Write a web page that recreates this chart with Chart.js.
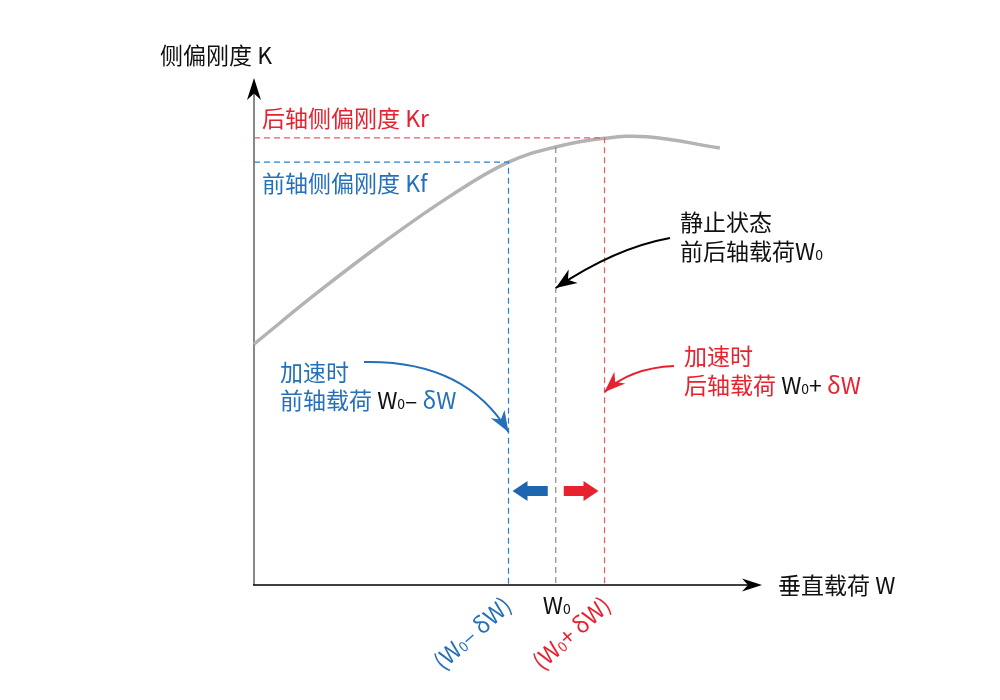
<!DOCTYPE html>
<html>
<head>
<meta charset="utf-8">
<script src="https://cdn.jsdelivr.net/npm/chart.js@4.4.1/dist/chart.umd.min.js"></script>
<style>
  html, body { margin: 0; padding: 0; background: #fff; }
  canvas { display: block; }
</style>
</head>
<body>
<canvas id="chart" width="1000" height="700"></canvas>
<script>
// curve: vertical load W vs cornering stiffness K
const loadW  = [0, 12.4, 25.4, 38.6, 50.1, 59.4, 69.0, 77.4, 91.7];
const stiffK = [47.5, 57.6, 67.5, 76.7, 83.4, 86.4, 88.1, 88.4, 86.2];
// marked loads: W0-dW (front), W0 (static), W0+dW (rear) and their stiffness
const markLoad  = [50.1, 59.4, 69.0];
const markStiff = [83.4, 86.4, 88.2];

const BLUE = '#2470bb';
const RED = '#e8212f';
const GRAY = '#b3b3b3';
const FONT = '"Noto Sans CJK SC", "Noto Sans", sans-serif';

function pts(xs, ys) {
    return xs.map((x, i) => ({ x: x, y: ys[i] }));
}

// a filled stealth-style arrow head, tip at (x,y), pointing along angle a
function head(ctx, x, y, a, len, w) {
    ctx.save();
    ctx.translate(x, y);
    ctx.rotate(a);
    ctx.beginPath();
    ctx.moveTo(0, 0);
    ctx.lineTo(-len, -w / 2);
    ctx.lineTo(-len * 0.7, 0);
    ctx.lineTo(-len, w / 2);
    ctx.closePath();
    ctx.fill();
    ctx.restore();
}

function curvedArrow(ctx, x0, y0, cx, cy, x1, y1, color) {
    ctx.save();
    ctx.strokeStyle = color;
    ctx.fillStyle = color;
    ctx.lineWidth = 2;
    ctx.beginPath();
    ctx.moveTo(x0, y0);
    ctx.quadraticCurveTo(cx, cy, x1, y1);
    ctx.stroke();
    head(ctx, x1, y1, Math.atan2(y1 - cy, x1 - cx), 21, 16);
    ctx.restore();
}

function blockArrow(ctx, tail, tip, y, color) {
    const dir = Math.sign(tip - tail);
    const hl = 15;
    ctx.save();
    ctx.fillStyle = color;
    ctx.beginPath();
    ctx.moveTo(tail, y - 5);
    ctx.lineTo(tip - dir * hl, y - 5);
    ctx.lineTo(tip - dir * hl, y - 10);
    ctx.lineTo(tip, y);
    ctx.lineTo(tip - dir * hl, y + 10);
    ctx.lineTo(tip - dir * hl, y + 5);
    ctx.lineTo(tail, y + 5);
    ctx.closePath();
    ctx.fill();
    ctx.restore();
}

// text made of runs: [text, color, small?]
function runs(ctx, x, y, parts) {
    ctx.textBaseline = 'middle';
    ctx.textAlign = 'left';
    for (const p of parts) {
        if (p[2]) {
            ctx.font = '14px ' + FONT;
            ctx.fillStyle = p[1];
            ctx.fillText(p[0], x, y + 4);
        } else {
            ctx.font = '23px ' + FONT;
            ctx.fillStyle = p[1];
            ctx.fillText(p[0], x, y);
        }
        x += ctx.measureText(p[0]).width;
    }
    return x;
}

const decor = {
    id: 'decor',
    beforeDatasetsDraw(chart) {
        const ctx = chart.ctx;
        const xs = chart.scales.x, ys = chart.scales.y;
        const ox = xs.getPixelForValue(0), oy = ys.getPixelForValue(0);
        const top = ys.getPixelForValue(100), right = xs.getPixelForValue(100);
        ctx.save();
        ctx.lineWidth = 1.6;
        ctx.strokeStyle = '#6a6a6a';
        ctx.beginPath();
        ctx.moveTo(ox, oy);
        ctx.lineTo(ox, top + 10);
        ctx.stroke();
        ctx.strokeStyle = '#000';
        ctx.beginPath();
        ctx.moveTo(ox - 1, oy);
        ctx.lineTo(right - 10, oy);
        ctx.stroke();
        ctx.fillStyle = '#000';
        head(ctx, ox, top, -Math.PI / 2, 22, 14);
        head(ctx, right, oy, 0, 20, 13);
        ctx.restore();
    },
    afterDatasetsDraw(chart) {
        const ctx = chart.ctx;
        const xs = chart.scales.x, ys = chart.scales.y;
        const xf = xs.getPixelForValue(markLoad[0]);
        const x0 = xs.getPixelForValue(markLoad[1]);
        const xr = xs.getPixelForValue(markLoad[2]);
        const oy = ys.getPixelForValue(0);
        ctx.save();

        // axis titles
        runs(ctx, 160, 55, [['侧偏刚度 K', '#111']]);
        runs(ctx, 778, oy, [['垂直载荷 W', '#111']]);

        // stiffness labels
        runs(ctx, 262, 118, [['后轴侧偏刚度 Kr', RED]]);
        runs(ctx, 262, 183, [['前轴侧偏刚度 Kf', BLUE]]);

        // static note
        runs(ctx, 680, 222, [['静止状态', '#111']]);
        runs(ctx, 680, 251, [['前后轴载荷W', '#111'], ['0', '#111', true]]);
        curvedArrow(ctx, 670, 238, 615, 248, x0, 288, '#000');

        // front axle note
        runs(ctx, 280, 372, [['加速时', BLUE]]);
        runs(ctx, 280, 400, [['前轴载荷 ', BLUE], ['W', '#111'], ['0', '#111', true], ['– ', '#111'], ['δW', BLUE]]);
        curvedArrow(ctx, 364, 362, 465, 360, xf, 432, BLUE);

        // rear axle note
        runs(ctx, 684, 356, [['加速时', RED]]);
        runs(ctx, 684, 385, [['后轴载荷 ', RED], ['W', '#111'], ['0', '#111', true], ['+ ', '#111'], ['δW', RED]]);
        curvedArrow(ctx, 674, 366, 630, 368, xr, 392, RED);

        // load shift arrows
        blockArrow(ctx, x0 - 8, xf + 4, 491, '#1f66b0');
        blockArrow(ctx, x0 + 8, xr - 6, 491, RED);

        // tick-like labels under the axis
        runs(ctx, x0 - 13, 605, [['W', '#111'], ['0', '#111', true]]);
        const rot = -42 * Math.PI / 180;
        ctx.save();
        ctx.translate(xf - 33, 630);
        ctx.rotate(rot);
        runs(ctx, -52, 0, [['(W', BLUE], ['0', BLUE, true], ['– δW)', BLUE]]);
        ctx.restore();
        ctx.save();
        ctx.translate(xr - 30, 630);
        ctx.rotate(rot);
        runs(ctx, -52, 0, [['(W', RED], ['0', RED, true], ['+ δW)', RED]]);
        ctx.restore();

        ctx.restore();
    }
};

const ctx = document.getElementById('chart').getContext('2d');
const myChart = new Chart(ctx, {
    type: 'scatter',
    data: {
        datasets: [
            {
                // front axle guide
                data: [{ x: 0, y: markStiff[0] }, { x: markLoad[0], y: markStiff[0] }, { x: markLoad[0], y: 0 }],
                showLine: true, borderColor: '#2d7fcc', borderWidth: 1.2, borderDash: [6, 4],
                pointRadius: 0, tension: 0
            },
            {
                // static guide
                data: [{ x: markLoad[1], y: markStiff[1] }, { x: markLoad[1], y: 0 }],
                showLine: true, borderColor: '#8c8c8c', borderWidth: 1.2, borderDash: [6, 4],
                pointRadius: 0, tension: 0
            },
            {
                // rear axle guide
                data: [{ x: 0, y: markStiff[2] }, { x: markLoad[2], y: markStiff[2] }, { x: markLoad[2], y: 0 }],
                showLine: true, borderColor: '#ec5a66', borderWidth: 1.2, borderDash: [6, 4],
                pointRadius: 0, tension: 0
            },
            {
                data: pts(loadW, stiffK),
                showLine: true, borderColor: GRAY, borderWidth: 3.5,
                pointRadius: 0, tension: 0.4
            }
        ]
    },
    options: {
        responsive: false,
        animation: false,
        clip: false,
        layout: { padding: { left: 254, top: 78, right: 238, bottom: 115 } },
        plugins: { legend: { display: false }, tooltip: { enabled: false } },
        scales: {
            x: { type: 'linear', min: 0, max: 100, display: false },
            y: { type: 'linear', min: 0, max: 100, display: false }
        }
    },
    plugins: [decor]
});
</script>
</body>
</html>
